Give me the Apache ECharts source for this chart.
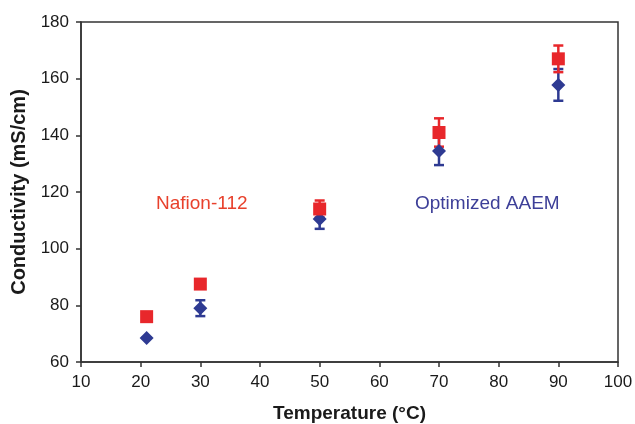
<!DOCTYPE html>
<html>
<head>
<meta charset="utf-8">
<script src="https://cdn.jsdelivr.net/npm/echarts@6/dist/echarts.min.js"></script>
<style>
html, body { margin: 0; padding: 0; background: #fff; }
#chart { width: 635px; height: 424px; }
</style>
</head>
<body>
<div id="chart"></div>
<script>
// temperatures (°C)
const temps = [21, 30, 50, 70, 90]
// Nafion-112 conductivity and error
const nafion = [76, 87.5, 114, 141, 167]
const nafionErr = [0, 1.5, 3, 5, 4.7]
// Optimized AAEM conductivity and error
const aaem = [68.5, 79, 110.5, 134.5, 157.8]
const aaemErr = [0, 2.8, 3.5, 5, 5.6]

const RED = '#e8272b'
const BLUE = '#2e3a92'
const FONT = '"Liberation Sans", Arial, sans-serif'

function errData(vals, errs) {
    return temps.map((t, i) => [t, vals[i] - errs[i], vals[i] + errs[i]])
}

function errSeries(vals, errs, color) {
    return {
        type: 'custom',
        data: errData(vals, errs),
        z: 1,
        renderItem: function (params, api) {
            let lo = api.coord([api.value(0), api.value(1)])
            let hi = api.coord([api.value(0), api.value(2)])
            let w = 5
            let style = { stroke: color, lineWidth: 2.5 }
            return {
                type: 'group',
                children: [
                    { type: 'line', shape: { x1: lo[0], y1: lo[1], x2: hi[0], y2: hi[1] }, style: style },
                    { type: 'line', shape: { x1: lo[0] - w, y1: lo[1], x2: lo[0] + w, y2: lo[1] }, style: style },
                    { type: 'line', shape: { x1: hi[0] - w, y1: hi[1], x2: hi[0] + w, y2: hi[1] }, style: style }
                ]
            }
        }
    }
}

let dom = echarts.init(document.getElementById('chart'))
let option = {
    animation: false,
    backgroundColor: '#fff',
    grid: {
        left: 81, right: 17, top: 22, bottom: 62,
        outerBoundsMode: 'none',
        containLabel: false,
        show: true, borderColor: '#333', borderWidth: 1.5
    },
    xAxis: {
        type: 'value',
        min: 10, max: 100, interval: 10,
        name: 'Temperature (°C)',
        nameLocation: 'middle',
        nameGap: 42,
        nameTextStyle: { fontFamily: FONT, fontWeight: 'bold', fontSize: 19, color: '#1a1a1a' },
        axisLine: { show: true, lineStyle: { color: '#333', width: 1.5 } },
        axisTick: { show: true, inside: false, length: 5, lineStyle: { color: '#333', width: 1.5 } },
        axisLabel: { fontFamily: FONT, fontSize: 17, color: '#1a1a1a', margin: 12 },
        splitLine: { show: false }
    },
    yAxis: {
        type: 'value',
        min: 60, max: 180, interval: 20,
        name: 'Conductivity (mS/cm)',
        nameLocation: 'middle',
        nameGap: 46,
        nameTextStyle: { fontFamily: FONT, fontWeight: 'bold', fontSize: 20, color: '#1a1a1a' },
        axisLine: { show: true, lineStyle: { color: '#333', width: 1.5 } },
        axisTick: { show: true, inside: false, length: 5, lineStyle: { color: '#333', width: 1.5 } },
        axisLabel: { fontFamily: FONT, fontSize: 17, color: '#1a1a1a', margin: 12 },
        splitLine: { show: false }
    },
    graphic: [
        { type: 'text', left: 156, top: 194, style: { text: 'Nafion-112', fill: '#e8412c', font: '19px ' + FONT } },
        { type: 'text', left: 415, top: 194, style: { text: 'Optimized AAEM', fill: '#3d3f98', font: '19px ' + FONT } }
    ],
    series: [
        errSeries(aaem, aaemErr, BLUE),
        errSeries(nafion, nafionErr, RED),
        {
            name: 'Optimized AAEM',
            type: 'scatter',
            symbol: 'diamond',
            symbolSize: [14, 14],
            itemStyle: { color: BLUE, opacity: 1 },
            z: 2,
            data: temps.map((t, i) => [t, aaem[i]])
        },
        {
            name: 'Nafion-112',
            type: 'scatter',
            symbol: 'rect',
            symbolSize: 13,
            itemStyle: { color: RED, opacity: 1 },
            z: 3,
            data: temps.map((t, i) => [t, nafion[i]])
        }
    ]
}
dom.setOption(option)
</script>
</body>
</html>
